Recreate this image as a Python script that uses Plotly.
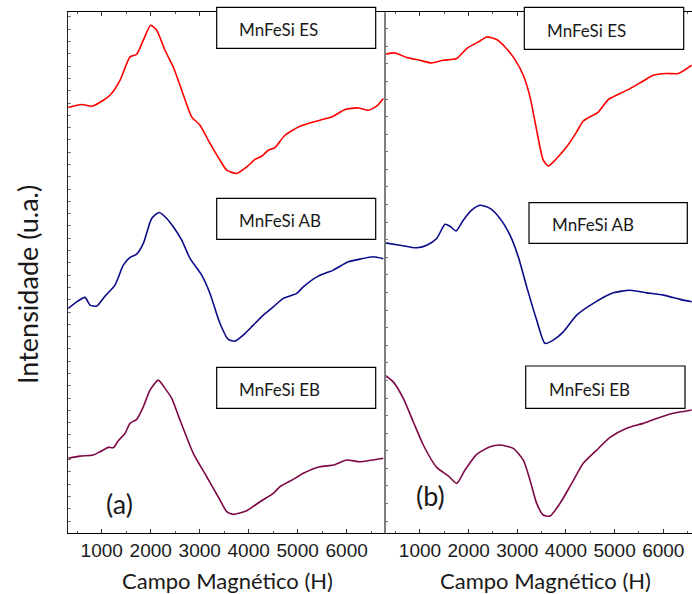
import plotly.graph_objects as go

# ---------------- data: panel (a) ----------------
a_es_field = [318, 592, 796, 1033, 1169, 1373, 1578, 1714, 1849, 2000, 2122, 2292, 2461, 2633, 2837,
              3006, 3210, 3414, 3551, 3755, 3959, 4129, 4265, 4400, 4537, 4741, 5047, 5455, 5727,
              5966, 6237, 6441, 6612, 6747]
a_es_int = [34.63, 34.88, 34.74, 35.23, 35.63, 36.85, 38.75, 38.97, 40.11, 41.33, 40.92, 39.29, 37.93,
            36.04, 33.87, 33.20, 31.71, 30.35, 29.54, 29.27, 29.80, 30.41, 30.67, 31.16, 31.38, 32.38,
            33.11, 33.60, 33.93, 34.47, 34.60, 34.41, 34.74, 35.37]

a_ab_field = [318, 490, 659, 761, 898, 1067, 1271, 1441, 1578, 1714, 1849, 2020, 2176, 2327, 2461,
              2633, 2802, 3041, 3210, 3414, 3584, 3720, 3890, 4094, 4298, 4502, 4706, 4980, 5114,
              5420, 5727, 6033, 6271, 6543, 6747]
a_ab_int = [18.29, 18.83, 19.19, 18.56, 18.48, 19.29, 20.19, 21.81, 22.44, 22.71, 23.58, 25.61, 26.10,
            25.61, 24.93, 23.85, 22.36, 21.00, 19.51, 17.07, 15.77, 15.63, 16.12, 16.93, 17.75, 18.42,
            19.11, 19.51, 20.05, 20.92, 21.41, 22.08, 22.30, 22.49, 22.33]

a_eb_field = [318, 557, 829, 965, 1135, 1237, 1339, 1476, 1578, 1714, 1849, 1986, 2155, 2292, 2429,
              2598, 2869, 3143, 3414, 3551, 3686, 3959, 4231, 4502, 4639, 4910, 5114, 5455, 5727,
              6000, 6271, 6747]
a_eb_int = [6.10, 6.28, 6.37, 6.63, 6.99, 6.96, 7.53, 8.13, 8.94, 9.27, 10.29, 11.65, 12.46, 11.79,
            10.98, 9.21, 6.50, 4.60, 2.71, 1.76, 1.54, 1.84, 2.57, 3.25, 3.79, 4.39, 4.88, 5.41, 5.55,
            5.96, 5.82, 6.10]

# ---------------- data: panel (b) ----------------
b_es_field = [281, 486, 727, 1000, 1240, 1479, 1754, 1960, 2233, 2371, 2576, 2747, 2952, 3123, 3261,
              3398, 3534, 3637, 3774, 4015, 4220, 4356, 4664, 4870, 5110, 5316, 5556, 5795, 6070,
              6308, 6584]
b_es_int = [27.23, 27.31, 27.05, 26.89, 26.74, 26.89, 26.99, 27.56, 27.99, 28.22, 28.07, 27.65, 26.93,
            26.04, 24.81, 22.91, 21.21, 20.89, 21.21, 21.97, 22.82, 23.44, 23.95, 24.66, 25.00, 25.28,
            25.66, 26.04, 26.14, 26.14, 26.61]

b_ab_field = [281, 589, 932, 1138, 1343, 1514, 1617, 1740, 1890, 2062, 2233, 2439, 2644, 2850, 3020,
              3193, 3398, 3569, 3739, 3945, 4220, 4561, 4972, 5316, 5659, 6000, 6343, 6584]
b_ab_int = [16.51, 16.38, 16.23, 16.38, 16.76, 17.57, 17.46, 17.19, 17.80, 18.37, 18.65, 18.47, 17.90,
            16.95, 15.72, 14.01, 12.12, 10.80, 10.98, 11.45, 12.40, 13.07, 13.67, 13.82, 13.67, 13.54,
            13.30, 13.16]

b_eb_field = [281, 451, 657, 862, 1068, 1343, 1582, 1754, 1925, 2165, 2439, 2644, 2917, 3123, 3261,
              3398, 3534, 3672, 3877, 4118, 4356, 4631, 4905, 5248, 5589, 5864, 6206, 6584]
b_eb_int = [8.99, 8.61, 7.67, 6.34, 5.02, 3.75, 3.26, 2.84, 3.60, 4.49, 4.92, 5.02, 4.83, 4.16, 3.03,
            1.70, 1.04, 0.98, 1.70, 2.84, 3.98, 4.73, 5.45, 5.97, 6.25, 6.53, 6.82, 7.01]

sample_names = ["MnFeSi ES", "MnFeSi AB", "MnFeSi EB"]
field_ticks = [1000, 2000, 3000, 4000, 5000, 6000]
panel_tags = ["(a)", "(b)"]
x_title = "Campo Magnético (H)"
y_title = "Intensidade (u.a.)"

RED = "#ff0000"
BLUE = "#0b0b8a"
WINE = "#7d0846"

W, H = 692, 594
TXT_FONT = "Lato"
NUM_FONT = "Liberation Sans, Arial, sans-serif"


def px(x):
    return x / W


def py(y):
    return 1 - y / H


fig = go.Figure()

series = [
    (a_es_field, a_es_int, RED, "x", "y"),
    (a_ab_field, a_ab_int, BLUE, "x", "y"),
    (a_eb_field, a_eb_int, WINE, "x", "y"),
    (b_es_field, b_es_int, RED, "x2", "y2"),
    (b_ab_field, b_ab_int, BLUE, "x2", "y2"),
    (b_eb_field, b_eb_int, WINE, "x2", "y2"),
]
for xs, ys, col, xa, ya in series:
    fig.add_trace(go.Scatter(x=xs, y=ys, mode="lines", xaxis=xa, yaxis=ya,
                             line=dict(color=col, width=1.6, shape="spline", smoothing=0.6),
                             showlegend=False, hoverinfo="skip"))

y_dom = [py(533.3), py(12.3)]
x_common = dict(
    showline=True, linecolor="black", linewidth=1.2, mirror="ticks",
    ticks="inside", ticklen=4, tickcolor="#333", tickwidth=1,
    tickvals=field_ticks, ticktext=[str(v) for v in field_ticks],
    tickfont=dict(family=NUM_FONT, size=19, color="#1a1a1a"),
    minor=dict(dtick=500, tick0=0, ticks="inside", ticklen=2, tickcolor="#555"),
    showgrid=False, zeroline=False,
)
y_common = dict(
    showticklabels=False, ticks="inside", ticklen=3, tickcolor="#777", tickwidth=1,
    showgrid=False, zeroline=False, domain=y_dom,
)

fig.update_layout(
    width=W, height=H,
    margin=dict(l=0, r=0, t=0, b=0),
    paper_bgcolor="white", plot_bgcolor="white",
    xaxis=dict(domain=[px(68), px(385)], range=[312, 6782], anchor="y", **x_common),
    xaxis2=dict(domain=[px(385), 1.0], range=[281, 6590], anchor="y2", **x_common),
    yaxis=dict(range=[0, 42.38], dtick=1, tick0=0, anchor="x",
               showline=True, linecolor="#222", linewidth=1.2, **y_common),
    yaxis2=dict(range=[0, 29.62], dtick=1, tick0=0.69, anchor="x2",
                showline=False, **y_common),
)

# divider between the two panels
fig.add_shape(type="line", xref="paper", yref="paper",
              x0=px(385), x1=px(385), y0=py(533.3), y1=py(12.3),
              line=dict(color="#7f7f7f", width=2), layer="above")

# sample label boxes: (x0, y0, x1, y1, text x, text y)
boxes = [
    (216.7, 7.3, 375.7, 48.3, 236.7, 30.0, sample_names[0]),
    (524.3, 7.3, 683.7, 49.3, 545.0, 30.5, sample_names[0]),
    (216.7, 198.3, 375.7, 239.3, 236.7, 220.5, sample_names[1]),
    (529.0, 202.7, 687.3, 243.3, 550.0, 224.5, sample_names[1]),
    (216.7, 367.3, 375.7, 408.3, 236.7, 389.5, sample_names[2]),
    (525.7, 366.0, 685.0, 408.3, 546.7, 389.5, sample_names[2]),
]
for x0, y0, x1, y1, tx, ty, label in boxes:
    fig.add_shape(type="rect", xref="paper", yref="paper",
                  x0=px(x0), x1=px(x1), y0=py(y1), y1=py(y0),
                  line=dict(color="black", width=1.2), fillcolor="white", layer="above")
    fig.add_annotation(xref="paper", yref="paper", x=px(tx), y=py(ty), text=label,
                       showarrow=False, xanchor="left", yanchor="middle",
                       font=dict(family=TXT_FONT, size=17, color="#1a1a1a"))

# panel tags
fig.add_annotation(xref="paper", yref="paper", x=px(119.2), y=py(503), text=panel_tags[0],
                   showarrow=False, xanchor="center", yanchor="middle",
                   font=dict(family=TXT_FONT, size=27, color="#1a1a1a"))
fig.add_annotation(xref="paper", yref="paper", x=px(430), y=py(495), text=panel_tags[1],
                   showarrow=False, xanchor="center", yanchor="middle",
                   font=dict(family=TXT_FONT, size=27, color="#1a1a1a"))

# axis titles
for cx in (227.5, 545.0):
    fig.add_annotation(xref="paper", yref="paper", x=px(cx), y=py(580), text=x_title,
                       showarrow=False, xanchor="center", yanchor="middle",
                       font=dict(family=TXT_FONT, size=22, color="#1a1a1a"))
fig.add_annotation(xref="paper", yref="paper", x=px(27), y=py(285), text=y_title,
                   showarrow=False, xanchor="center", yanchor="middle", textangle=-90,
                   font=dict(family=TXT_FONT, size=27, color="#1a1a1a"))

fig.write_html("out.html")
